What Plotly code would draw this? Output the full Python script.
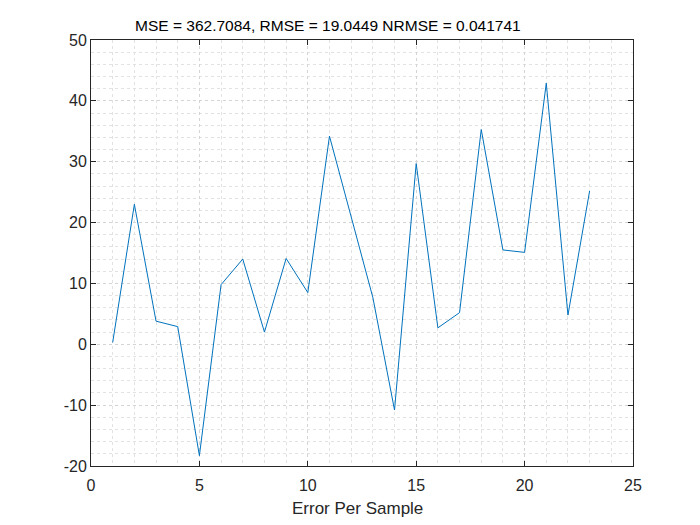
import plotly.graph_objects as go

samples = list(range(1, 24))
errors = [0.3, 23.0, 3.8, 2.9, -18.3, 9.8, 14.0, 2.0, 14.1, 8.5, 34.2, 20.8,
          7.7, -10.8, 29.7, 2.7, 5.2, 35.3, 15.5, 15.1, 42.9, 4.8, 25.2]
title_text = "MSE = 362.7084, RMSE = 19.0449 NRMSE = 0.041741"
x_label = "Error Per Sample"
x_ticks = [0, 5, 10, 15, 20, 25]
y_ticks = [-20, -10, 0, 10, 20, 30, 40, 50]

FONT = "Liberation Sans, Arial"
GRID = "#e2e2e2"
GRID_MAJOR = "#d4d4d4"

fig = go.Figure()
fig.add_trace(go.Scatter(x=samples, y=errors, mode="lines",
                         line=dict(color="#0072BD", width=1), showlegend=False))

axis_common = dict(
    showline=True, linecolor="#262626", linewidth=1, mirror="ticks",
    ticks="inside", ticklen=5, tickcolor="#262626", tickwidth=1,
    showgrid=True, gridcolor=GRID_MAJOR, griddash="dot", gridwidth=1,
    zeroline=False,
    tickfont=dict(family=FONT, size=16, color="#262626"),
)

fig.update_layout(
    width=700, height=525,
    paper_bgcolor="white", plot_bgcolor="white",
    margin=dict(l=91, r=67, t=40, b=59),
    title=dict(text=title_text, x=0.437, xref="paper", xanchor="center",
               y=1, yref="paper", yanchor="bottom", pad=dict(b=9),
               font=dict(family=FONT, size=15.5, color="black")),
    xaxis=dict(range=[0, 25], tickvals=x_ticks, ticktext=[str(v) for v in x_ticks],
               ticklabelstandoff=5,
               minor=dict(dtick=1, tick0=0, showgrid=True, gridcolor=GRID,
                          griddash="dot", gridwidth=1, ticks=""),
               **axis_common),
    yaxis=dict(range=[-20, 50], tickvals=y_ticks, ticktext=[str(v) for v in y_ticks],
               minor=dict(dtick=2, tick0=0, showgrid=True, gridcolor=GRID,
                          griddash="dot", gridwidth=1, ticks=""),
               **axis_common),
    annotations=[dict(text=x_label, xref="paper", yref="paper", x=0.492, y=-0.072,
                      xanchor="center", yanchor="top", showarrow=False,
                      font=dict(family=FONT, size=17, color="#262626"))],
)

fig.write_html("out.html")
